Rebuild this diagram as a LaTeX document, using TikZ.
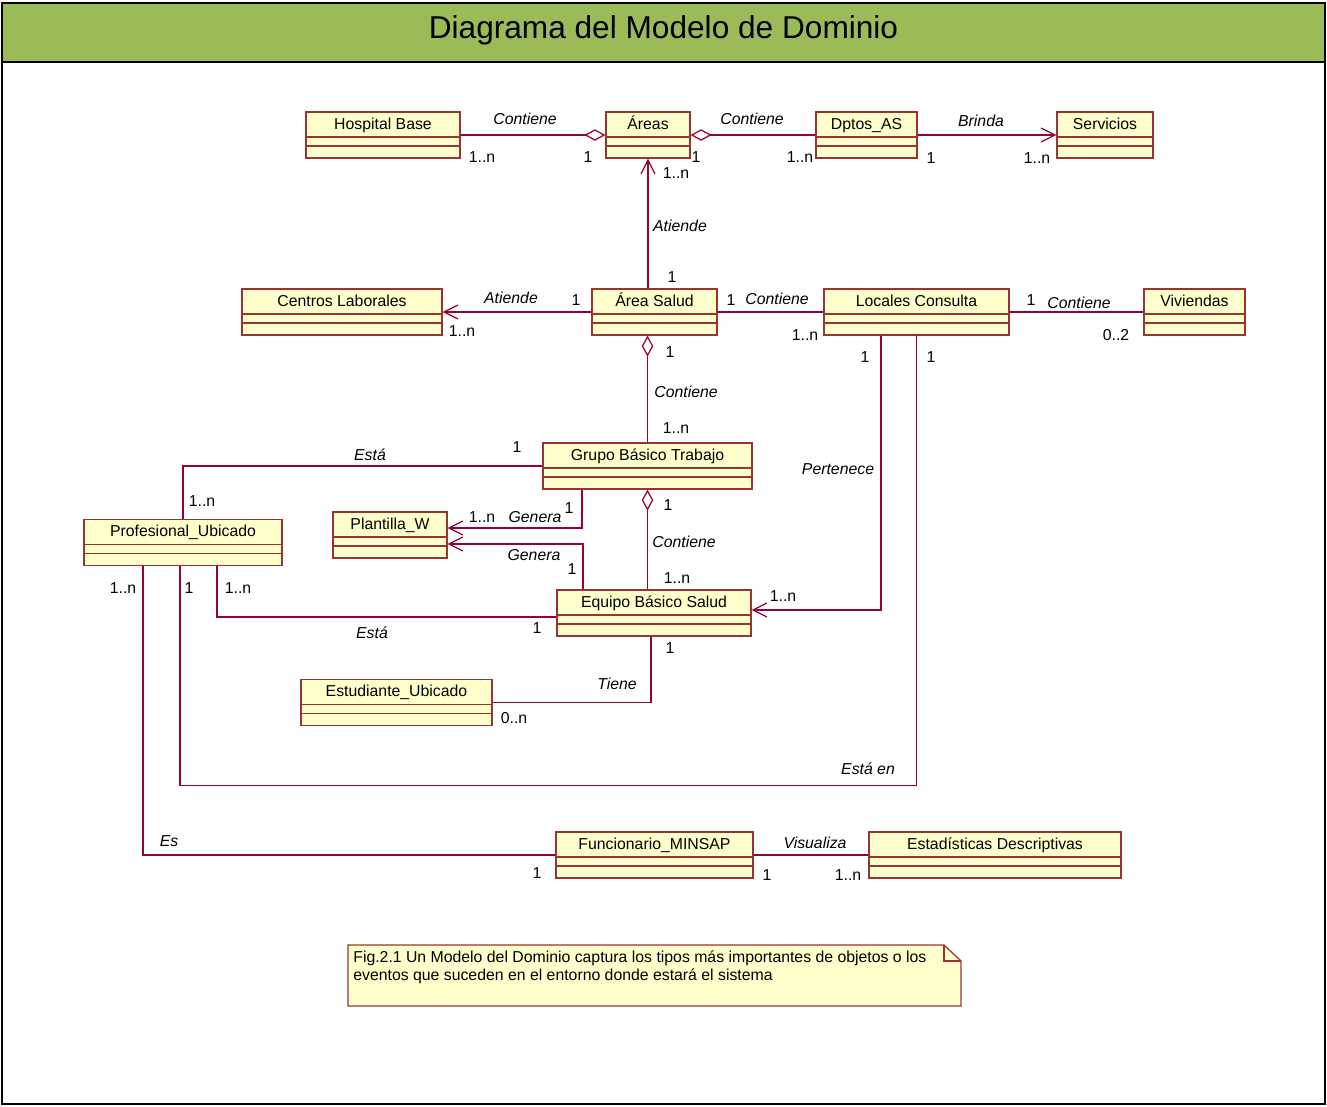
\documentclass[tikz,border=0pt]{standalone}
\usepackage{fontspec}
\setmainfont{Liberation Sans}
\usetikzlibrary{arrows.meta,positioning}

\definecolor{verde}{HTML}{9BBB59}
\definecolor{amarillo}{HTML}{FFFFCC}
\definecolor{borde}{HTML}{993333}
\definecolor{linea}{HTML}{990033}

\begin{document}
\begin{tikzpicture}[x=0.02cm, y=-0.02cm,
    clase/.style={draw=borde, fill=amarillo, line width=0.7pt, inner xsep=0pt, inner ysep=0pt,
      text height=0.34cm, text depth=0.58cm, font=\fontsize{9}{11}\selectfont,
      path picture={
        \draw[borde, line width=0.7pt] ([yshift=-0.5cm]path picture bounding box.north west) -- ([yshift=-0.5cm]path picture bounding box.north east);
        \draw[borde, line width=0.7pt] ([yshift=-0.68cm]path picture bounding box.north west) -- ([yshift=-0.68cm]path picture bounding box.north east);}},
    asoc/.style={draw=linea, line width=0.7pt},
    nav/.style={asoc, -{Straight Barb[length=0.28cm, width=0.28cm]}},
    agr/.style={asoc, {Diamond[open, length=0.42cm, width=0.23cm]}-},
    rol/.style={font=\fontsize{9}{11}\selectfont\itshape, inner sep=0pt},
    mult/.style={font=\fontsize{9}{11}\selectfont, inner sep=0pt}
]
\useasboundingbox (0,0) rectangle (1327,1106);

% marco y titulo
\fill[white] (0,0) rectangle (1327,1106);
\filldraw[fill=verde, draw=black, line width=1.6pt] (2,3) rectangle (1325,62);
\draw[line width=1.6pt] (2,3) rectangle (1325,1104);
\node[font=\fontsize{18}{22}\selectfont] (titulo) at (663.5,30) {Diagrama del Modelo de Dominio};

% clases
\node[clase, minimum width=3.08cm] (hosp) at (383,135) {Hospital Base};
\node[clase, minimum width=1.68cm] (areas) at (648,135) {Áreas};
\node[clase, minimum width=2.02cm] (dptos) at (866.5,135) {Dptos\_AS};
\node[clase, minimum width=1.92cm] (serv) at (1105,135) {Servicios};
\node[clase, minimum width=4.0cm] (centros) at (342,312) {Centros Laborales};
\node[clase, minimum width=2.5cm] (asalud) at (654.5,312) {Área Salud};
\node[clase, minimum width=3.7cm] (locales) at (916.5,312) {Locales Consulta};
\node[clase, minimum width=2.02cm] (viv) at (1194.5,312) {Viviendas};
\node[clase, minimum width=4.18cm] (gbt) at (647.5,466) {Grupo Básico Trabajo};
\node[clase, minimum width=2.28cm] (plantilla) at (390,535) {Plantilla\_W};
\node[clase, minimum width=3.96cm] (prof) at (183,542.5) {Profesional\_Ubicado};
\node[clase, minimum width=3.88cm] (ebs) at (654,613) {Equipo Básico Salud};
\node[clase, minimum width=3.82cm] (estud) at (396.5,702.5) {Estudiante\_Ubicado};
\node[clase, minimum width=3.94cm] (func) at (654.5,855) {Funcionario\_MINSAP};
\node[clase, minimum width=5.04cm] (estad) at (995,855) {Estadísticas Descriptivas};

% nota
\filldraw[draw=borde, fill=amarillo, line width=0.7pt] (348,945) -- (944,945) -- (961,961) -- (961,1006) -- (348,1006) -- cycle;
\draw[borde, line width=0.7pt] (944,945) -- (944,961) -- (961,961);
\node[anchor=north west, align=left, inner sep=0pt, font=\fontsize{9}{10.8}\selectfont] (nota) at (353,950)
  {Fig.2.1 Un Modelo del Dominio captura los tipos más importantes de objetos o los\\eventos que suceden en el entorno donde estará el sistema};

% relaciones
\draw[agr] (areas.west) -- (hosp.east);
\draw[agr] (areas.east) -- (dptos.west);
\draw[nav] (dptos.east) -- (serv.west);
\draw[nav] (areas.south |- asalud.north) -- (areas.south);
\draw[nav] (asalud.west) -- (centros.east);
\draw[asoc] (asalud.east) -- (locales.west);
\draw[asoc] (locales.east) -- (viv.west);
\draw[agr] (gbt.north |- asalud.south) -- (gbt.north);
\draw[asoc] (gbt.west) -| (prof.north);
\draw[nav] ([xshift=-1.31cm]gbt.south) |- ([yshift=0.14cm]plantilla.east);
\draw[nav] ([xshift=-1.42cm]ebs.north) |- ([yshift=-0.18cm]plantilla.east);
\draw[agr] (gbt.south) -- (gbt.south |- ebs.north);
\draw[nav] ([xshift=-0.71cm]locales.south) |- ([yshift=0.06cm]ebs.east);
\draw[asoc] (locales.south) -- ++(0,450) -| ([xshift=-0.06cm]prof.south);
\draw[asoc] ([yshift=-0.08cm]ebs.west) -| ([xshift=0.68cm]prof.south);
\draw[asoc] ([xshift=-0.06cm]ebs.south) |- (estud.east);
\draw[asoc] ([xshift=-0.8cm]prof.south) |- (func.west);
\draw[asoc] (func.east) -- (estad.west);

% nombres de rol
\node[rol] (r1) at (525,119) {Contiene};
\node[rol] (r2) at (752,119) {Contiene};
\node[rol] (r3) at (981,121) {Brinda};
\node[rol] (r4) at (680,226) {Atiende};
\node[rol] (r5) at (511,298) {Atiende};
\node[rol] (r6) at (777,299) {Contiene};
\node[rol] (r7) at (1079,303) {Contiene};
\node[rol] (r8) at (686,392) {Contiene};
\node[rol] (r9) at (370,455) {Está};
\node[rol] (r10) at (535,517) {Genera};
\node[rol] (r11) at (534,555) {Genera};
\node[rol] (r12) at (684,542) {Contiene};
\node[rol] (r13) at (838,469) {Pertenece};
\node[rol] (r14) at (372,633) {Está};
\node[rol] (r15) at (617,684) {Tiene};
\node[rol] (r16) at (868,769) {Está en};
\node[rol] (r17) at (169,841) {Es};
\node[rol] (r18) at (815,843) {Visualiza};

% multiplicidades
\node[mult] (m1) at (482,157) {1..n};
\node[mult] (m2) at (588,157) {1};
\node[mult] (m3) at (696,157) {1};
\node[mult] (m4) at (800,157) {1..n};
\node[mult] (m5) at (931,158) {1};
\node[mult] (m6) at (1037,158) {1..n};
\node[mult] (m7) at (676,173) {1..n};
\node[mult] (m8) at (672,277) {1};
\node[mult] (m9) at (576,300) {1};
\node[mult] (m10) at (462,331) {1..n};
\node[mult] (m11) at (731,300) {1};
\node[mult] (m12) at (805,335) {1..n};
\node[mult] (m13) at (1031,300) {1};
\node[mult] (m14) at (1116,335) {0..2};
\node[mult] (m15) at (670,352) {1};
\node[mult] (m16) at (676,428) {1..n};
\node[mult] (m17) at (865,357) {1};
\node[mult] (m18) at (931,357) {1};
\node[mult] (m19) at (517,447) {1};
\node[mult] (m20) at (202,501) {1..n};
\node[mult] (m21) at (569,508) {1};
\node[mult] (m22) at (482,517) {1..n};
\node[mult] (m23) at (668,505) {1};
\node[mult] (m24) at (572,569) {1};
\node[mult] (m25) at (677,578) {1..n};
\node[mult] (m26) at (783,596) {1..n};
\node[mult] (m27) at (537,628) {1};
\node[mult] (m28) at (123,588) {1..n};
\node[mult] (m29) at (189,588) {1};
\node[mult] (m30) at (238,588) {1..n};
\node[mult] (m31) at (670,648) {1};
\node[mult] (m32) at (514,718) {0..n};
\node[mult] (m33) at (537,873) {1};
\node[mult] (m34) at (767,875) {1};
\node[mult] (m35) at (848,875) {1..n};
\end{tikzpicture}
\end{document}
